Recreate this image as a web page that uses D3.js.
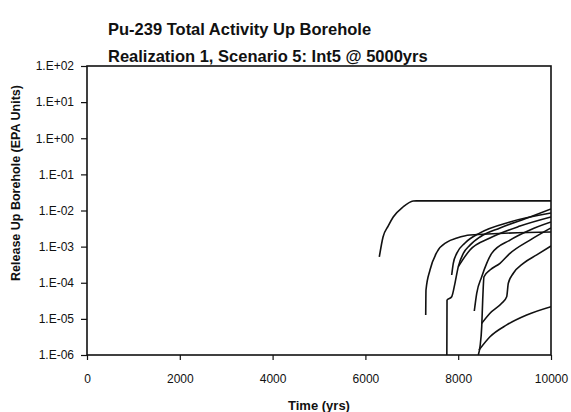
<!DOCTYPE html>
<html>
<head>
<meta charset="utf-8">
<script src="https://cdn.jsdelivr.net/npm/d3@7"></script>
<style>
  body { margin: 0; background: #fff; }
  text { font-family: "Liberation Sans", Arial, sans-serif; fill: #111; }
</style>
</head>
<body>
<div id="chart"></div>
<script>
// titles
const titleLines = ["Pu-239 Total Activity Up Borehole", "Realization 1, Scenario 5: Int5 @ 5000yrs"];
const xTitle = "Time (yrs)";
const yTitle = "Release Up Borehole (EPA Units)";

// ticks
const xTicks = [0, 2000, 4000, 6000, 8000, 10000];
const yTicks = [1e2, 1e1, 1e0, 1e-1, 1e-2, 1e-3, 1e-4, 1e-5, 1e-6];
const yTickLabels = ["1.E+02", "1.E+01", "1.E+00", "1.E-01", "1.E-02", "1.E-03", "1.E-04", "1.E-05", "1.E-06"];

// realizations: [time, release]
const run1 = [[6300, 5.2e-4], [6380, 1.85e-3], [6490, 3.7e-3], [6600, 6.6e-3], [6810, 1.25e-2], [7030, 1.83e-2], [7100, 1.85e-2], [10000, 1.85e-2]];
const run2 = [[7300, 1.28e-5], [7306, 6.3e-5], [7392, 2.25e-4], [7543, 7.1e-4], [7759, 1.34e-3], [7974, 1.73e-3], [8254, 2.1e-3], [10000, 2.54e-3]];
const run3 = [[7755, 1e-6], [7759, 3.3e-5], [7860, 4.1e-5], [7931, 9.8e-5], [8002, 2.8e-4], [8110, 6.5e-4], [8254, 1.1e-3], [8470, 1.85e-3], [8901, 3.3e-3], [9548, 6.6e-3], [10000, 1.1e-2]];
const run4 = [[7860, 1.64e-4], [7894, 3.45e-4], [7968, 6.5e-4], [8147, 1.26e-3], [8470, 2.4e-3], [9116, 4.8e-3], [10000, 8.5e-3]];
const run5 = [[8347, 1.65e-5], [8399, 5.1e-5], [8507, 1.47e-4], [8614, 3.45e-4], [8722, 6.5e-4], [9116, 1.52e-3], [9548, 2.9e-3], [10000, 4.8e-3]];
const run6 = [[8433, 1e-6], [8470, 1.7e-6], [8507, 6.1e-6], [8528, 3.3e-5], [8556, 1.47e-4], [8685, 2.25e-4], [8901, 3.45e-4], [9116, 6.5e-4], [9548, 1.52e-3], [10000, 3.3e-3]];
const run7 = [[8507, 7.5e-6], [8685, 1.43e-5], [8937, 2.7e-5], [9045, 4.1e-5], [9080, 9.7e-5], [9188, 1.83e-4], [9403, 3.45e-4], [9692, 5.9e-4], [10000, 1.04e-3]];
const run8 = [[8448, 1.37e-6], [8685, 3.2e-6], [9045, 6.8e-6], [9476, 1.28e-5], [10000, 2.17e-5]];
const run9 = [[8002, 2.8e-4], [8254, 8.1e-4], [8685, 1.73e-3], [9332, 3.7e-3], [10000, 6.6e-3]];
const runs = [run1, run2, run3, run4, run5, run6, run7, run8, run9];

// size
const W = 571, H = 412;
const margin = { top: 66, right: 20, bottom: 57, left: 87 };
const width  = W - margin.left - margin.right;
const height = H - margin.top - margin.bottom;

const svg = d3.select("#chart").append("svg")
  .attr("width", W)
  .attr("height", H);

const g = svg.append("g")
  .attr("transform", `translate(${margin.left},${margin.top})`);

// scales
const x = d3.scaleLinear().domain([0, 10000]).range([0, width]);
const y = d3.scaleLog().domain([1e-6, 1e2]).range([height, 0]);

// clip
svg.append("clipPath").attr("id", "clip")
  .append("rect").attr("width", width).attr("height", height + 1);

// curves
const line = d3.line()
  .x(d => x(d[0]))
  .y(d => y(d[1]))
  .curve(d3.curveMonotoneX);

g.append("g").attr("clip-path", "url(#clip)")
  .selectAll("path")
  .data(runs)
  .enter()
  .append("path")
  .attr("d", line)
  .attr("fill", "none")
  .attr("stroke", "#111")
  .attr("stroke-width", 1.6);

// frame
g.append("rect")
  .attr("width", width)
  .attr("height", height)
  .attr("fill", "none")
  .attr("stroke", "#111")
  .attr("stroke-width", 1.6);

// x axis
const xAxis = g.append("g")
  .attr("transform", `translate(0,${height})`)
  .call(d3.axisBottom(x).tickValues(xTicks).tickSize(5).tickPadding(14).tickFormat(d3.format("d")));
xAxis.select(".domain").remove();
xAxis.selectAll("line").attr("stroke", "#111").attr("stroke-width", 1.2);
xAxis.selectAll("text").attr("font-size", "12px").attr("fill", "#111");

// y axis
const yAxis = g.append("g")
  .call(d3.axisLeft(y).tickValues(yTicks).tickSize(6).tickPadding(7)
    .tickFormat((d, i) => yTickLabels[i]));
yAxis.select(".domain").remove();
yAxis.selectAll("line").attr("stroke", "#111").attr("stroke-width", 1.2);
yAxis.selectAll("text").attr("font-size", "12px").attr("fill", "#111");

// titles
svg.selectAll(".title")
  .data(titleLines)
  .enter()
  .append("text")
  .attr("class", "title")
  .attr("x", 108)
  .attr("y", (d, i) => 35 + i * 27)
  .attr("font-size", "16.5px")
  .attr("font-weight", "bold")
  .text(d => d);

svg.append("text")
  .attr("x", 319)
  .attr("y", 410)
  .attr("text-anchor", "middle")
  .attr("font-size", "13px")
  .attr("font-weight", "bold")
  .text(xTitle);

svg.append("text")
  .attr("transform", "rotate(-90)")
  .attr("x", -183)
  .attr("y", 20)
  .attr("text-anchor", "middle")
  .attr("font-size", "12.5px")
  .attr("font-weight", "bold")
  .text(yTitle);
</script>
</body>
</html>
